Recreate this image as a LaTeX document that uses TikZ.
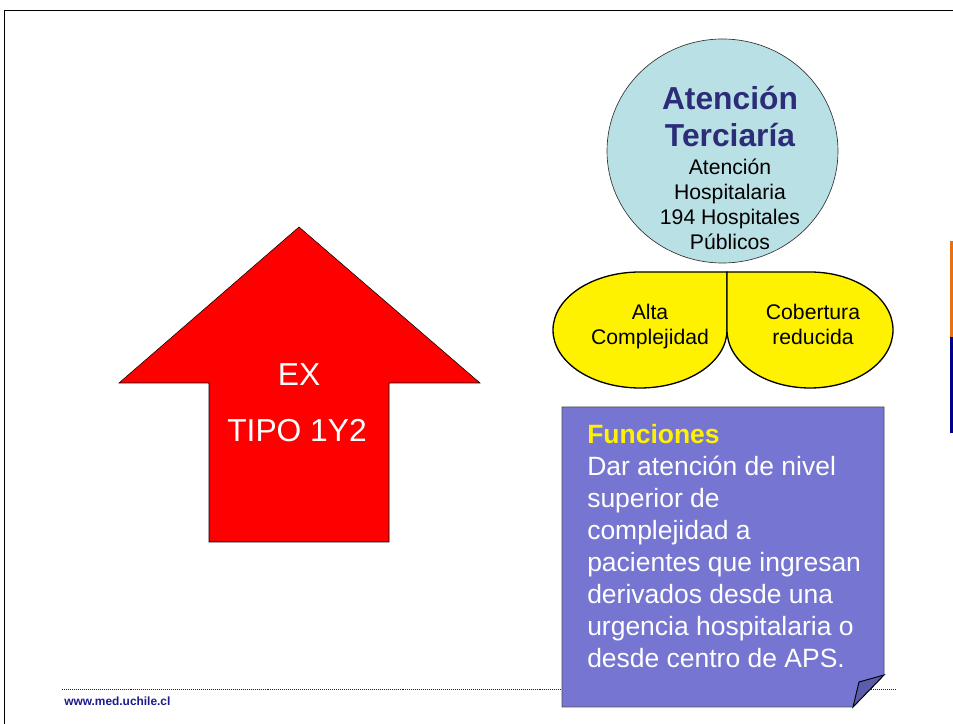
\documentclass[tikz,border=0pt]{standalone}
\usepackage{fontspec}
\setmainfont{Liberation Sans}
\usepackage{tikz}
\usetikzlibrary{positioning}

\definecolor{bubbleblue}{RGB}{185,224,228}
\definecolor{titleblue}{RGB}{44,44,120}
\definecolor{noteblue}{RGB}{118,118,210}
\definecolor{folddark}{RGB}{92,92,172}
\definecolor{linkblue}{RGB}{26,26,140}
\definecolor{barorange}{RGB}{232,112,16}
\definecolor{barblue}{RGB}{0,0,140}

\begin{document}
\begin{tikzpicture}[x=0.7555pt,y=-0.7555pt,
		arrowshape/.style={fill=red, draw=black, line width=0.4pt},
		bubble/.style={fill=bubbleblue, draw=black!80, line width=0.5pt},
		petal/.style={fill=yellow, draw=black, line width=1pt},
		notebox/.style={fill=noteblue, draw=black!70, line width=0.7pt},
		label16/.style={inner sep=0pt, align=center, font=\fontsize{16}{18.9}\selectfont},
		]
		\useasboundingbox (0,0) rectangle (953,724);
		
		%Frame
		\draw[line width=1.5pt] (4.5,724) -- (4.5,10.5) -- (953,10.5);
		\fill[barorange] (950,241) rectangle (953,337);
		\fill[barblue] (950,337) rectangle (953,433);
		
		%Shapes
		\draw[arrowshape] (299,227) -- (480,383) -- (389,383) -- (389,542)
			-- (209,542) -- (209,383) -- (119,383) -- cycle;
		\draw[bubble] (722.5,151) ellipse [x radius=115.5, y radius=112];
		\draw[petal] (727,272) -- (727,330)
			arc [start angle=0, end angle=270, x radius=87, y radius=58] -- cycle;
		\draw[petal] (727,272) -- (727,330)
			arc [start angle=180, end angle=-90, x radius=83, y radius=58] -- cycle;
		\draw[notebox] (562,407) -- (884,407) -- (884,675) -- (853,707) -- (562,707) -- cycle;
		\draw[fill=folddark, line width=0.7pt] (884,675) -- (859,682) -- (853,707) -- cycle;
		\draw[linkblue, line width=0.6pt, dash pattern=on 0.7pt off 0.8pt] (62,689) -- (562,689);
		\draw[linkblue, line width=0.6pt, dash pattern=on 0.7pt off 0.8pt] (871,689) -- (896,689);
		
		%Nodes (base = last line)
		\node[text=white, inner sep=0pt, anchor=base, font=\fontsize{24}{28}\selectfont]
			(ex) at (299,386) {EX};
		\node[text=white, inner sep=0pt, anchor=base, font=\fontsize{24}{28}\selectfont]
			(tipo) at (297,442) {TIPO 1Y2};
		\node[text=titleblue, inner sep=0pt, anchor=base, align=center,
			font=\fontsize{24}{28.7}\selectfont\bfseries]
			(title) at (730,147) {Atención\\Terciaría};
		\node[label16, anchor=base] (hosp) at (730,250)
			{Atención\\Hospitalaria\\194 Hospitales\\Públicos};
		\node[label16, anchor=base] (alta) at (650,345) {Alta\\Complejidad};
		\node[label16, anchor=base] (cober) at (813,345) {Cobertura\\reducida};
		\node[text=white, inner sep=0pt, anchor=base west, align=left,
			font=\fontsize{20}{24.2}\selectfont]
			(funciones) at (587,668) {\textbf{\textcolor{yellow}{Funciones}}\\Dar atención de nivel\\superior de\\complejidad a\\pacientes que ingresan\\derivados desde una\\urgencia hospitalaria o\\desde centro de APS.};
		\node[text=linkblue, inner sep=0pt, anchor=base west, font=\fontsize{9}{11}\selectfont\bfseries]
			(web) at (64,706) {www.med.uchile.cl};
		\end{tikzpicture}
\end{document}
